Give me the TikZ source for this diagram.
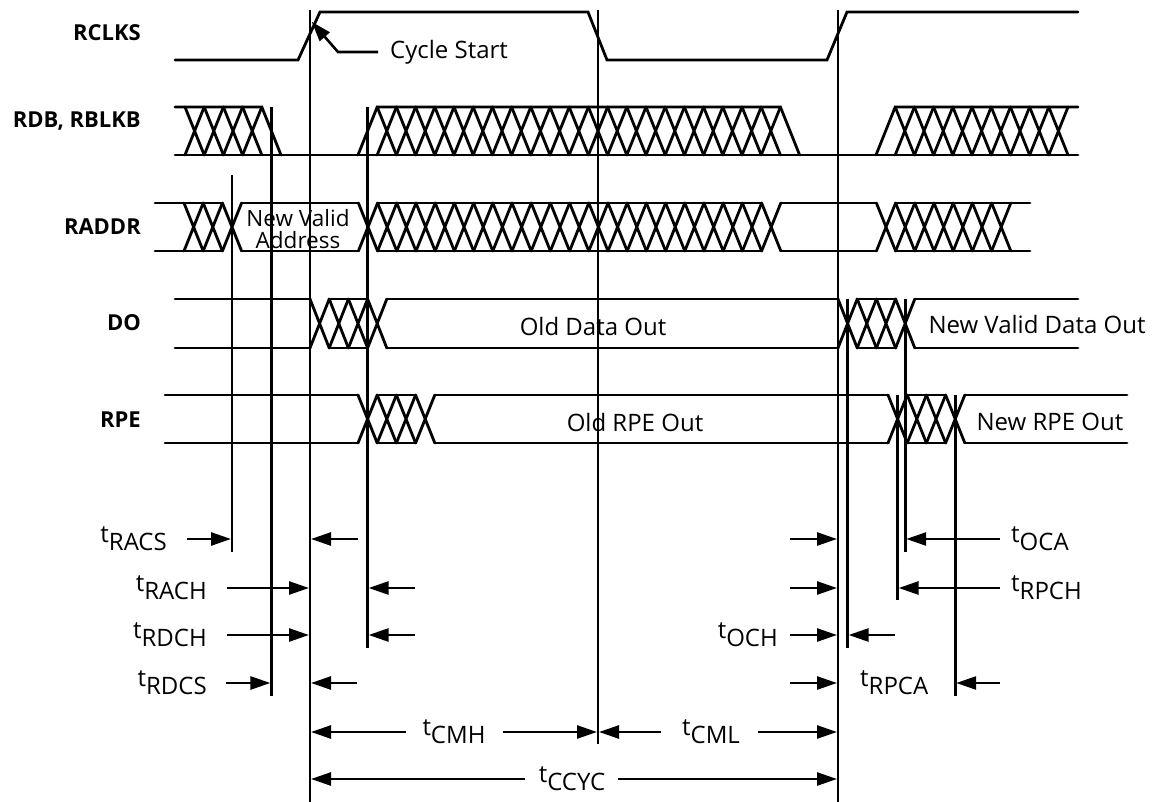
\documentclass[tikz,border=0pt]{standalone}
\usepackage{fontspec}
\setmainfont{Open Sans}
\usetikzlibrary{arrows.meta,positioning}

% t with its index set low, as in data sheets
\newcommand{\tsub}[1]{t\raisebox{-8pt}{#1}}
\newcommand{\hwid}{9.6}
% one bus crossing: centre #1, top #2, bottom #3
\newcommand{\busx}[3]{\draw[wave] ({#1-\hwid},#2) -- ({#1+\hwid},#3) ({#1-\hwid},#3) -- ({#1+\hwid},#2);}

\begin{document}
\begin{tikzpicture}[
    x=1pt, y=-1pt,
    every node/.style={font=\fontsize{24}{20}\selectfont, inner sep=0pt},
    wave/.style={line width=2.8pt, line cap=round},
    tline/.style={line width=2.7pt},
    dim/.style={line width=2.6pt, -{Triangle[length=20pt,width=13pt]}, shorten >=1pt},
    signame/.style={anchor=east, font=\bfseries\fontsize{22}{20}\selectfont}
]
\useasboundingbox (0,0) rectangle (1154,802);

% signal names
\node[signame] (rclks) at (141,33) {RCLKS};
\node[signame] (rdb) at (141,121) {RDB, RBLKB};
\node[signame] (raddr) at (141,227) {RADDR};
\node[signame] (do) at (141,323) {DO};
\node[signame] (rpe) at (141,420) {RPE};

% RCLKS
\draw[wave] (175,60) -- (298,60) -- (320,12) -- (588,12) -- (607,60) -- (827,60) -- (847,12) -- (1078,12);

% RDB, RBLKB
\draw[wave] (175,155) -- (1078,155);
\draw[wave] (175,107) -- (261.8,107) -- (281,155);
\foreach \k in {0,...,3} {\busx{194.6+19.2*\k}{107}{155}}
\draw[wave] (358,155) -- (377.2,107) -- (780.4,107) -- (799.6,155);
\foreach \k in {0,...,20} {\busx{386.8+19.2*\k}{107}{155}}
\draw[wave] (876,155) -- (895.2,107) -- (1078,107);
\foreach \k in {0,...,8} {\busx{904.8+19.2*\k}{107}{155}}

% RADDR
\foreach \yy in {203,251} {
  \draw[wave] (155,\yy) -- (222.4,\yy);
  \draw[wave] (241.6,\yy) -- (358.4,\yy);
  \draw[wave] (377.6,\yy) -- (761.6,\yy);
  \draw[wave] (780.8,\yy) -- (876.4,\yy);
  \draw[wave] (895.6,\yy) -- (1030,\yy);
}
\foreach \k in {0,...,2} {\busx{193.6+19.2*\k}{203}{251}}
\foreach \k in {0,...,21} {\busx{368+19.2*\k}{203}{251}}
\foreach \k in {0,...,6} {\busx{886+19.2*\k}{203}{251}}

% DO
\foreach \yy in {299,348} {
  \draw[wave] (175,\yy) -- (310,\yy);
  \draw[wave] (329.2,\yy) -- (367.6,\yy);
  \draw[wave] (386.8,\yy) -- (838,\yy);
  \draw[wave] (857.2,\yy) -- (895.6,\yy);
  \draw[wave] (914.8,\yy) -- (1078,\yy);
}
\foreach \k in {0,...,3} {\busx{319.6+19.2*\k}{299}{348} \busx{847.6+19.2*\k}{299}{348}}

% RPE
\foreach \yy in {395,443} {
  \draw[wave] (165,\yy) -- (358,\yy);
  \draw[wave] (377.2,\yy) -- (415.6,\yy);
  \draw[wave] (434.8,\yy) -- (888,\yy);
  \draw[wave] (907.2,\yy) -- (945.6,\yy);
  \draw[wave] (964.8,\yy) -- (1127,\yy);
}
\foreach \k in {0,...,3} {\busx{367.6+19.2*\k}{395}{443} \busx{897.6+19.2*\k}{395}{443}}

% bus contents
\node[align=center, font=\fontsize{22.5}{21.5}\selectfont] (naddr) at (298,229) {New Valid\\Address};
\node (olddo) at (593,327) {Old Data Out};
\node (newdo) at (1037,325) {New Valid Data Out};
\node (oldrpe) at (635,422) {Old RPE Out};
\node (newrpe) at (1050,422) {New RPE Out};

% timing instants
\coordinate (ta) at (232,0);
\coordinate (tb) at (271.4,0);
\coordinate (tc) at (310,0);
\coordinate (td) at (367.6,0);
\coordinate (te) at (598,0);
\coordinate (tf) at (838,0);
\coordinate (tg) at (847.6,0);
\coordinate (th) at (897.6,0);
\coordinate (ti) at (905.2,0);
\coordinate (tj) at (955.2,0);
\foreach \p/\ya/\yb in {ta/175/552, tb/107/696, tc/10/802, td/107/648, te/10/744,
    tf/10/802, tg/299/648, th/395/600, ti/299/552, tj/395/696}
  \draw[tline] (\p |- 0,\ya) -- (\p |- 0,\yb);

% cycle start pointer
\coordinate (cstart) at (311,21);
\node[anchor=west] (cyc) at (390,52) {Cycle Start};
\draw[dim] (cyc.west) ++(-12,0) -- ++(-40,0) -- (cstart);

% set-up and hold, left side
\node[anchor=east] (racs) at (167,539) {\tsub{RACS}};
\node[anchor=east] (rach) at (207,588) {\tsub{RACH}};
\node[anchor=east] (rdch) at (207,635) {\tsub{RDCH}};
\node[anchor=east] (rdcs) at (207,683) {\tsub{RDCS}};
\draw[dim] (racs.east) ++(20,0) -- (ta |- racs.east);
\draw[dim] (tc |- racs.east) ++(48,0) -- (tc |- racs.east);
\draw[dim] (rach.east) ++(20,0) -- (tc |- rach.east);
\draw[dim] (td |- rach.east) ++(47,0) -- (td |- rach.east);
\draw[dim] (rdch.east) ++(20,0) -- (tc |- rdch.east);
\draw[dim] (td |- rdch.east) ++(47,0) -- (td |- rdch.east);
\draw[dim] (rdcs.east) ++(19,0) -- (tb |- rdcs.east);
\draw[dim] (tc |- rdcs.east) ++(47,0) -- (tc |- rdcs.east);

% output timing, right side
\node[anchor=west] (oca) at (1011,539) {\tsub{OCA}};
\node[anchor=west] (rpch) at (1011,588) {\tsub{RPCH}};
\node[anchor=east] (och) at (778,635) {\tsub{OCH}};
\node[anchor=west] (rpca) at (860,683) {\tsub{RPCA}};
\foreach \n in {oca,rpch,och,rpca}
  \draw[dim] (tf |- \n.east) ++(-48,0) -- (tf |- \n.east);
\draw[dim] (oca.west) ++(-11,0) -- (ti |- oca.west);
\draw[dim] (rpch.west) ++(-11,0) -- (th |- rpch.west);
\draw[dim] (tg |- och.east) ++(47,0) -- (tg |- och.east);
\draw[dim] (tj |- rpca.east) ++(45,0) -- (tj |- rpca.east);

% clock high, low and cycle
\node (cmh) at (454,732) {\tsub{CMH}};
\node (cml) at (711,732) {\tsub{CML}};
\node (ccyc) at (572,779) {\tsub{CCYC}};
\draw[dim] (cmh.west) ++(-16,0) -- (tc |- cmh.west);
\draw[dim] (cmh.east) ++(17,0) -- (te |- cmh.east);
\draw[dim] (cml.west) ++(-21,0) -- (te |- cml.west);
\draw[dim] (cml.east) ++(18,0) -- (tf |- cml.east);
\draw[dim] (ccyc.west) ++(-14,0) -- (tc |- ccyc.west);
\draw[dim] (ccyc.east) ++(13,0) -- (tf |- ccyc.east);
\end{tikzpicture}
\end{document}
